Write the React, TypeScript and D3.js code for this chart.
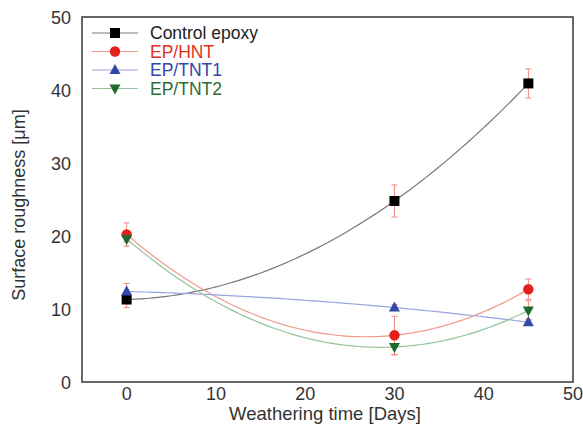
import React from "react";
import * as d3 from "d3";

const days = [0, 30, 45];
const seriesNames = ["Control epoxy", "EP/HNT", "EP/TNT1", "EP/TNT2"];
const controlVals = [11.3, 24.8, 40.9];
const controlErr = [1.1, 2.2, 2.0];
const hntVals = [20.2, 6.4, 12.7];
const hntErr = [1.6, 2.6, 1.4];
const tnt1Vals = [12.4, 10.2, 8.2];
const tnt1Err = [1.1, 0.4, 0.4];
const tnt2Vals = [19.6, 4.8, 9.8];
const tnt2Err = [0.4, 1.1, 1.3];
const xTicks = [0, 10, 20, 30, 40, 50];
const yTicks = [0, 10, 20, 30, 40, 50];

const W = 583, H = 430;
const m = { left: 82, right: 10, top: 17, bottom: 48 };

const x = d3.scaleLinear().domain([-5, 50]).range([m.left, W - m.right]);
const y = d3.scaleLinear().domain([0, 50]).range([H - m.bottom, m.top]);

function quadFit(xs: number[], ys: number[]) {
  // exact quadratic through 3 points (Lagrange form)
  return (t: number) => {
    let s = 0;
    for (let i = 0; i < 3; i++) {
      let p = ys[i];
      for (let j = 0; j < 3; j++) if (j !== i) p *= (t - xs[j]) / (xs[i] - xs[j]);
      s += p;
    }
    return s;
  };
}

type S = { name: string; vals: number[]; err: number[]; marker: string; color: string; line: string; text: string };
const series: S[] = [
  { name: seriesNames[0], vals: controlVals, err: controlErr, marker: "square", color: "#000", line: "#7a7a7a", text: "#222" },
  { name: seriesNames[1], vals: hntVals, err: hntErr, marker: "circle", color: "#e3201b", line: "#f09a8a", text: "#e3301f" },
  { name: seriesNames[2], vals: tnt1Vals, err: tnt1Err, marker: "tri", color: "#3347a8", line: "#9aa4e0", text: "#3347a8" },
  { name: seriesNames[3], vals: tnt2Vals, err: tnt2Err, marker: "triDown", color: "#1d6a2c", line: "#92c49a", text: "#2a6e34" },
];

function Marker({ type, cx, cy, color }: { type: string; cx: number; cy: number; color: string }) {
  if (type === "square") return <rect x={cx - 5} y={cy - 5} width={10} height={10} fill={color} />;
  if (type === "circle") return <circle cx={cx} cy={cy} r={5.2} fill={color} />;
  if (type === "tri") return <path d={`M${cx},${cy - 6}L${cx + 5.5},${cy + 4}L${cx - 5.5},${cy + 4}Z`} fill={color} />;
  return <path d={`M${cx},${cy + 6}L${cx + 5.5},${cy - 4}L${cx - 5.5},${cy - 4}Z`} fill={color} />;
}

export default function App() {
  const line = d3.line<[number, number]>().x((d) => x(d[0])).y((d) => y(d[1]));
  const font = "Liberation Sans, Arial, sans-serif";
  return (
    <svg width={W} height={H} style={{ position: "absolute", left: 0, top: 0 }}>
      <rect width={W} height={H} fill="#fff" />
      {series.map((s, i) => {
        const f = quadFit(days, s.vals);
        const pts = d3.range(0, 45.01, 0.5).map((t) => [t, f(t)] as [number, number]);
        return <path key={"l" + i} d={line(pts) || ""} fill="none" stroke={s.line} strokeWidth={1.2} />;
      })}
      {series.map((s, i) =>
        days.map((d, j) => (
          <g key={`e${i}-${j}`} stroke="#f08a80" strokeWidth={1}>
            <line x1={x(d)} x2={x(d)} y1={y(s.vals[j] + s.err[j])} y2={y(s.vals[j] - s.err[j])} />
            <line x1={x(d) - 3} x2={x(d) + 3} y1={y(s.vals[j] + s.err[j])} y2={y(s.vals[j] + s.err[j])} />
            <line x1={x(d) - 3} x2={x(d) + 3} y1={y(s.vals[j] - s.err[j])} y2={y(s.vals[j] - s.err[j])} />
          </g>
        ))
      )}
      {series.map((s, i) =>
        days.map((d, j) => <Marker key={`m${i}-${j}`} type={s.marker} cx={x(d)} cy={y(s.vals[j])} color={s.color} />)
      )}
      <rect x={m.left} y={m.top} width={W - m.right - m.left} height={H - m.bottom - m.top} fill="none" stroke="#444" strokeWidth={1.6} />
      {xTicks.map((t) => (
        <text key={"x" + t} x={x(t)} y={400} textAnchor="middle" fontFamily={font} fontSize={18} fill="#333">{t}</text>
      ))}
      {yTicks.map((t) => (
        <text key={"y" + t} x={m.left - 11} y={y(t) + 6.5} textAnchor="end" fontFamily={font} fontSize={18} fill="#333">{t}</text>
      ))}
      <text x={325} y={420} textAnchor="middle" fontFamily={font} fontSize={18.5} fill="#333">Weathering time [Days]</text>
      <text transform={`translate(25,205) rotate(-90)`} textAnchor="middle" fontFamily={font} fontSize={18} fill="#333">Surface roughness [μm]</text>
      {series.map((s, i) => {
        const ly = 33 + i * 18.5;
        return (
          <g key={"lg" + i}>
            <line x1={92} x2={138} y1={ly} y2={ly} stroke={s.line} strokeWidth={1.2} />
            <Marker type={s.marker} cx={115} cy={ly} color={s.color} />
            <text x={150} y={ly + 6} fontFamily={font} fontSize={17.5} fill={s.text}>{s.name}</text>
          </g>
        );
      })}
    </svg>
  );
}
